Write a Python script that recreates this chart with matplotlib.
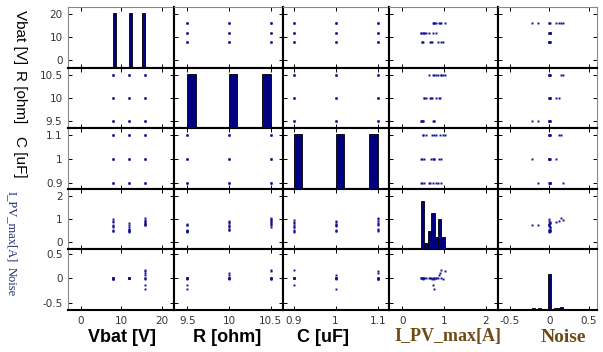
import numpy as np
import matplotlib.pyplot as plt

plt.rcParams['axes.unicode_minus'] = False
plt.rcParams['font.family'] = 'DejaVu Sans'

# 27 runs: Vbat x R x C grid, with measured I_PV_max and noise
vbat = [8, 8, 8, 8, 8, 8, 8, 8, 8,
        12, 12, 12, 12, 12, 12, 12, 12, 12,
        16, 16, 16, 16, 16, 16, 16, 16, 16]
r_ohm = [9.5, 9.5, 9.5, 10, 10, 10, 10.5, 10.5, 10.5,
         9.5, 9.5, 9.5, 10, 10, 10, 10.5, 10.5, 10.5,
         9.5, 9.5, 9.5, 10, 10, 10, 10.5, 10.5, 10.5]
c_uf = [0.9, 1.0, 1.1, 0.9, 1.0, 1.1, 0.9, 1.0, 1.1,
        0.9, 1.0, 1.1, 0.9, 1.0, 1.1, 0.9, 1.0, 1.1,
        0.9, 1.0, 1.1, 0.9, 1.0, 1.1, 0.9, 1.0, 1.1]
i_pv = [0.47, 0.48, 0.50, 0.66, 0.68, 0.72, 0.86, 0.92, 0.98,
        0.45, 0.46, 0.49, 0.51, 0.52, 0.58, 0.64, 0.74, 0.82,
        0.73, 0.75, 0.76, 0.80, 0.88, 0.90, 0.93, 0.77, 1.02]
noise = [0.0, 0.004, -0.004, 0.002, 0.0, -0.002, 0.003, 0.0, -0.003,
         0.0, 0.006, 0.008, 0.004, 0.0, 0.007, 0.005, 0.0, 0.009,
         -0.14, -0.22, 0.0, 0.01, 0.08, 0.12, 0.17, -0.01, 0.15]

names = ['Vbat [V]', 'R [ohm]', 'C [uF]', 'I_PV_max[A]', 'Noise']
ticks = [[0, 10, 20], [9.5, 10, 10.5], [0.9, 1, 1.1], [0, 1, 2], [-0.5, 0, 0.5]]
tick_text = [['0', '10', '20'], ['9.5', '10', '10.5'], ['0.9', '1', '1.1'],
             ['0', '1', '2'], ['-0.5', '0', '0.5']]

data = [vbat, r_ohm, c_uf, i_pv, noise]
lims = [(-3.2, 23.1), (9.34, 10.65), (0.875, 1.127), (-0.32, 2.3), (-0.65, 0.6)]
nbins = [10, 10, 10, 7, 10]
hist_top = [10, 10, 10, 10, 35]

W, H = 603, 352
fig, axes = plt.subplots(5, 5, figsize=(W / 100, H / 100), dpi=100,
                         gridspec_kw=dict(left=68 / W, right=597 / W,
                                          top=1 - 7 / H, bottom=1 - 310 / H,
                                          wspace=0, hspace=0,
                                          width_ratios=[106, 109, 106, 109, 99]))

navy = '#000080'
for i in range(5):
    for j in range(5):
        ax = axes[i, j]
        ax.set_xlim(lims[j])
        ax.set_ylim(lims[i])
        ax.set_xticks(ticks[j])
        ax.set_xticklabels(tick_text[j])
        ax.set_yticks(ticks[i])
        ax.set_yticklabels(tick_text[i])
        ax.tick_params(direction='in', length=3, width=0.7, top=True, right=True,
                       labelsize=7.5, labelcolor='#333333', pad=4,
                       labelleft=(j == 0), labelbottom=(i == 4))
        for s in ax.spines.values():
            s.set_linewidth(1.5)
            s.set_color('black')
        if i == 0:
            ax.spines['top'].set(color='#888888', linewidth=0.8)
        if j == 0:
            ax.spines['left'].set(color='#888888', linewidth=0.8)
        if j == 4:
            ax.spines['right'].set(color='#888888', linewidth=0.8)
        if i != j:
            ax.plot(data[j], data[i], 's', ms=1.4, mew=0, color='#101090')
        else:
            h = ax.twinx()
            h.hist(data[i], bins=nbins[i], color=navy, edgecolor='black', linewidth=0.6)
            h.set_ylim(0, hist_top[i])
            h.set_axis_off()

sans = 'Liberation Sans'
serif = 'Liberation Serif'
ylab_pos = [(20, 37), (20, 97), (20, 157), (11, 227), (11, 282)]
xlab_pos = [(122, 337), (227, 337), (323, 337), (448, 337), (563, 337)]
for k in range(5):
    if k < 3:
        kw_y = dict(family=sans, fontsize=11, color='black')
        kw_x = dict(family=sans, fontsize=13, fontweight='bold', color='black')
    else:
        kw_y = dict(family=serif, fontsize=9, color='#1c2a78')
        kw_x = dict(family=serif, fontsize=13 if k == 3 else 14, fontweight='bold',
                    color='#6e4b14')
    fig.text(ylab_pos[k][0] / W, 1 - ylab_pos[k][1] / H, names[k], rotation=-90,
             ha='center', va='center', **kw_y)
    fig.text(xlab_pos[k][0] / W, 1 - xlab_pos[k][1] / H, names[k],
             ha='center', va='center', **kw_x)

fig.savefig('out.png', dpi=100)
